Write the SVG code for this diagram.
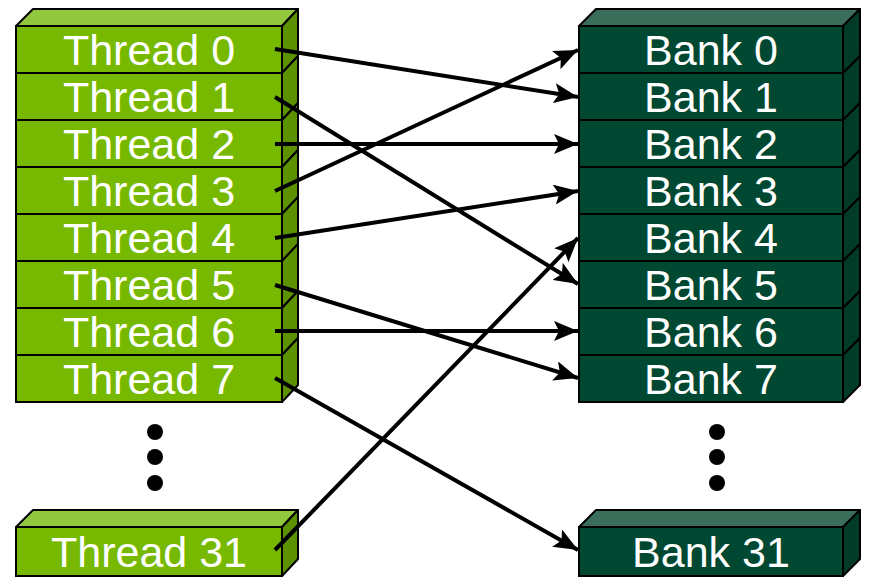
<svg xmlns="http://www.w3.org/2000/svg" width="870" height="578" viewBox="0 0 870 578">
<style>
.tf{fill:#76b900;stroke:#000;stroke-width:2}
.tt{fill:#92c83e;stroke:#000;stroke-width:2;stroke-linejoin:round}
.ts{fill:#5c9100;stroke:#000;stroke-width:2;stroke-linejoin:round}
.bf{fill:#004831;stroke:#000;stroke-width:2}
.bt{fill:#3a6e5b;stroke:#000;stroke-width:2;stroke-linejoin:round}
.bs{fill:#003b27;stroke:#000;stroke-width:2;stroke-linejoin:round}
text{font-family:"Liberation Sans",Arial,sans-serif;font-size:43px;fill:#fff;text-anchor:middle}
.c{stroke:#000;stroke-width:4;fill:none;marker-end:url(#ah)}
.dot{fill:#000}
</style>
<defs>
<marker id="ah" markerUnits="userSpaceOnUse" markerWidth="26" markerHeight="20" refX="24" refY="10" orient="auto">
<path d="M0,0 L24,10 L0,20 L5,10 Z" fill="#000"/>
</marker>
</defs>
<g id="threads">
<g id="thread0"><path class="tt" d="M16,26 L33,9 L298,9 L282,26 Z"/><path class="ts" d="M282,26 L298,9 L298,56 L282,73 Z"/><rect class="tf" x="16" y="26" width="266" height="47"/><text x="149" y="65">Thread 0</text></g>
<g id="thread1"><path class="ts" d="M282,73 L298,56 L298,103 L282,120 Z"/><rect class="tf" x="16" y="73" width="266" height="47"/><text x="149" y="112">Thread 1</text></g>
<g id="thread2"><path class="ts" d="M282,120 L298,103 L298,150 L282,167 Z"/><rect class="tf" x="16" y="120" width="266" height="47"/><text x="149" y="159">Thread 2</text></g>
<g id="thread3"><path class="ts" d="M282,167 L298,150 L298,197 L282,214 Z"/><rect class="tf" x="16" y="167" width="266" height="47"/><text x="149" y="206">Thread 3</text></g>
<g id="thread4"><path class="ts" d="M282,214 L298,197 L298,244 L282,261 Z"/><rect class="tf" x="16" y="214" width="266" height="47"/><text x="149" y="253">Thread 4</text></g>
<g id="thread5"><path class="ts" d="M282,261 L298,244 L298,291 L282,308 Z"/><rect class="tf" x="16" y="261" width="266" height="47"/><text x="149" y="300">Thread 5</text></g>
<g id="thread6"><path class="ts" d="M282,308 L298,291 L298,338 L282,355 Z"/><rect class="tf" x="16" y="308" width="266" height="47"/><text x="149" y="347">Thread 6</text></g>
<g id="thread7"><path class="ts" d="M282,355 L298,338 L298,385 L282,402 Z"/><rect class="tf" x="16" y="355" width="266" height="47"/><text x="149" y="394">Thread 7</text></g>
<g id="thread31"><path class="tt" d="M16,527 L33,510 L298,510 L282,527 Z"/><path class="ts" d="M282,527 L298,510 L298,559 L282,576 Z"/><rect class="tf" x="16" y="527" width="266" height="49"/><text x="149" y="567">Thread 31</text></g>
</g>
<g id="banks">
<g id="bank0"><path class="bt" d="M579,26 L596,9 L860,9 L843,26 Z"/><path class="bs" d="M843,26 L860,9 L860,56 L843,73 Z"/><rect class="bf" x="579" y="26" width="264" height="47"/><text x="711" y="65">Bank 0</text></g>
<g id="bank1"><path class="bs" d="M843,73 L860,56 L860,103 L843,120 Z"/><rect class="bf" x="579" y="73" width="264" height="47"/><text x="711" y="112">Bank 1</text></g>
<g id="bank2"><path class="bs" d="M843,120 L860,103 L860,150 L843,167 Z"/><rect class="bf" x="579" y="120" width="264" height="47"/><text x="711" y="159">Bank 2</text></g>
<g id="bank3"><path class="bs" d="M843,167 L860,150 L860,197 L843,214 Z"/><rect class="bf" x="579" y="167" width="264" height="47"/><text x="711" y="206">Bank 3</text></g>
<g id="bank4"><path class="bs" d="M843,214 L860,197 L860,244 L843,261 Z"/><rect class="bf" x="579" y="214" width="264" height="47"/><text x="711" y="253">Bank 4</text></g>
<g id="bank5"><path class="bs" d="M843,261 L860,244 L860,291 L843,308 Z"/><rect class="bf" x="579" y="261" width="264" height="47"/><text x="711" y="300">Bank 5</text></g>
<g id="bank6"><path class="bs" d="M843,308 L860,291 L860,338 L843,355 Z"/><rect class="bf" x="579" y="308" width="264" height="47"/><text x="711" y="347">Bank 6</text></g>
<g id="bank7"><path class="bs" d="M843,355 L860,338 L860,385 L843,402 Z"/><rect class="bf" x="579" y="355" width="264" height="47"/><text x="711" y="394">Bank 7</text></g>
<g id="bank31"><path class="bt" d="M579,527 L596,510 L860,510 L843,527 Z"/><path class="bs" d="M843,527 L860,510 L860,559 L843,576 Z"/><rect class="bf" x="579" y="527" width="264" height="49"/><text x="711" y="567">Bank 31</text></g>
</g>
<g id="ellipses">
<circle class="dot" cx="155" cy="432" r="8"/><circle class="dot" cx="155" cy="457" r="8"/><circle class="dot" cx="155" cy="483" r="8"/>
<circle class="dot" cx="717" cy="432" r="8"/><circle class="dot" cx="717" cy="457" r="8"/><circle class="dot" cx="717" cy="483" r="8"/>
</g>
<g id="connectors">
<line class="c" x1="275" y1="49" x2="578" y2="97"/>
<line class="c" x1="275" y1="97" x2="578" y2="284"/>
<line class="c" x1="275" y1="144" x2="578" y2="144"/>
<line class="c" x1="275" y1="191" x2="578" y2="50"/>
<line class="c" x1="275" y1="238" x2="578" y2="191"/>
<line class="c" x1="275" y1="285" x2="578" y2="378"/>
<line class="c" x1="275" y1="331" x2="578" y2="331"/>
<line class="c" x1="275" y1="378" x2="578" y2="550"/>
<line class="c" x1="275" y1="550" x2="578" y2="238"/>
</g>
</svg>
